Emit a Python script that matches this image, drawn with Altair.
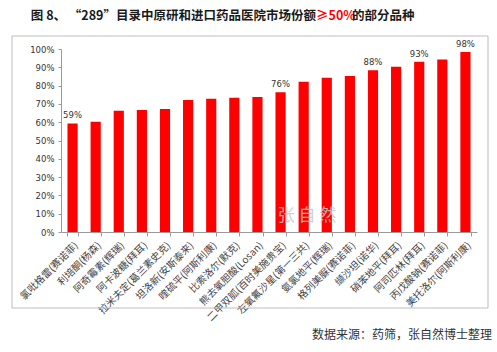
import altair as alt
import pandas as pd

drugs = ["氯吡格雷(赛诺菲)", "利培酮(杨森)", "阿奇霉素(辉瑞)", "阿卡波糖(拜耳)",
         "拉米夫定(葛兰素史克)", "坦洛新(安斯泰来)", "喹硫平(阿斯利康)", "比索洛尔(默克)",
         "熊去氧胆酸(Losan)", "二甲双胍(百时美施贵宝)", "左氧氟沙星(第一三共)", "氨氯地平(辉瑞)",
         "格列美脲(赛诺菲)", "缬沙坦(诺华)", "硝苯地平(拜耳)", "阿司匹林(拜耳)",
         "丙戊酸钠(赛诺菲)", "美托洛尔(阿斯利康)"]
shares = [0.593, 0.602, 0.663, 0.667, 0.672, 0.721, 0.728, 0.734, 0.738, 0.763,
          0.821, 0.843, 0.852, 0.884, 0.903, 0.931, 0.942, 0.983]
labels = ["59%", "", "", "", "", "", "", "", "", "76%", "", "", "", "88%", "", "93%", "", "98%"]
y_ticks = [0, 0.1, 0.2, 0.3, 0.4, 0.5, 0.6, 0.7, 0.8, 0.9, 1.0]

df = pd.DataFrame({"drug": drugs, "share": shares, "label": labels})
one = pd.DataFrame({"k": [0]})

W, H = 416, 183
FONT = "Noto Sans CJK SC"

x_axis = alt.Axis(labelAngle=315, labelFont=FONT, labelFontSize=10,
                  labelColor="#444444", domainColor="#9a9a9a",
                  tickColor="#9a9a9a", tickSize=4, tickBand="extent",
                  labelPadding=4, labelLimit=200)
y_axis = alt.Axis(values=y_ticks, format=".0%", labelFont="DejaVu Sans",
                  labelFontSize=8.5, labelColor="#333333", domainColor="#9a9a9a",
                  tickColor="#9a9a9a", tickSize=3, grid=False, labelPadding=4,
                  labelOverlap=False)
x_scale = alt.Scale(paddingInner=0.56, paddingOuter=0.28)
y_scale = alt.Scale(domain=[0, 1], nice=False)

x_enc = alt.X("drug:N", sort=drugs, title=None, scale=x_scale, axis=x_axis)
y_enc = alt.Y("share:Q", title=None, scale=y_scale, axis=y_axis)

base = alt.Chart(df).encode(x=x_enc, y=y_enc)

bars = base.mark_bar(color="#ff0000")
texts = base.mark_text(dy=-8, font="DejaVu Sans", fontSize=8.5, color="#333333").encode(
    text="label:N")

frame = alt.Chart(one).mark_rect(fill=None, stroke="#bdbdbd", strokeWidth=1).encode(
    x=alt.value(-49), x2=alt.value(427), y=alt.value(-13), y2=alt.value(259))

t1 = alt.Chart(one).mark_text(text="图 8、 “289”目录中原研和进口药品医院市场份额", align="right",
                              baseline="middle", font=FONT, fontSize=12.5, fontWeight="bold",
                              color="#1a1a1a").encode(x=alt.value(255), y=alt.value(-33))
t2 = alt.Chart(one).mark_text(text="≥50%", align="left", baseline="middle", font=FONT,
                              fontSize=12.5, fontWeight="bold", color="#ff0000").encode(
    x=alt.value(255), y=alt.value(-33))
t3 = alt.Chart(one).mark_text(text="的部分品种", align="left", baseline="middle", font=FONT,
                              fontSize=12.5, fontWeight="bold", color="#1a1a1a").encode(
    x=alt.value(291), y=alt.value(-33))

wm = alt.Chart(one).mark_text(text="张 自 然", align="center", baseline="middle", font=FONT,
                              fontSize=17, color="#c8c8c8", opacity=0.85).encode(
    x=alt.value(246), y=alt.value(167))

src = alt.Chart(one).mark_text(text="数据来源：药筛，张自然博士整理", align="right", baseline="middle",
                               font=FONT, fontSize=12, color="#333333").encode(
    x=alt.value(431), y=alt.value(286))

chart = alt.layer(frame, bars, texts, wm, t1, t2, t3, src).properties(
    width=W, height=H,
    autosize=alt.AutoSizeParams(type="none"),
    padding={"left": 61, "top": 49, "right": 20, "bottom": 120},
    background="white",
).configure_view(stroke=None)

chart.save("out.html", embed_options={"renderer": "svg", "actions": False})
